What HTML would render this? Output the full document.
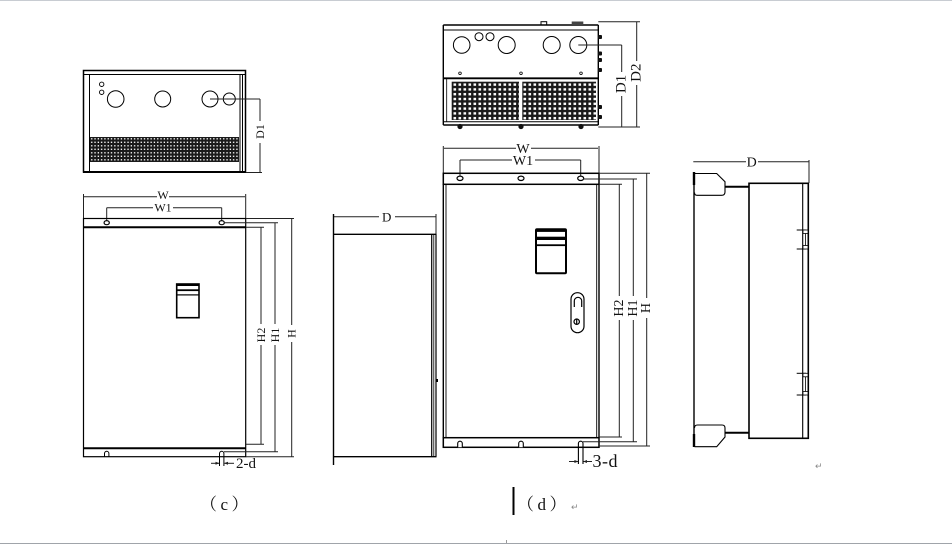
<!DOCTYPE html>
<html><head><meta charset="utf-8"><style>
html,body{margin:0;padding:0;background:#fff;}
svg{display:block;}
text{font-family:"Liberation Serif","Noto Serif CJK SC",serif;fill:#111;}
</style></head><body>
<svg width="952" height="547" viewBox="0 0 952 547" xmlns="http://www.w3.org/2000/svg">
<defs>
<pattern id="m1" width="3.3" height="3.5" patternUnits="userSpaceOnUse" x="90" y="137">
<rect width="3.3" height="3.5" fill="#1a1a1a"/>
<rect x="1.1" y="1.1" width="1.3" height="1.4" fill="#fff"/>
</pattern>
<pattern id="m2" width="5" height="4.8" patternUnits="userSpaceOnUse" x="452" y="82">
<rect width="5" height="4.8" fill="#1a1a1a"/>
<rect x="1.5" y="1.4" width="2.6" height="2.4" fill="#fff"/>
</pattern>
</defs>

<!-- page lines -->
<line x1="0" y1="0.5" x2="952" y2="0.5" stroke="#c8ccd2" stroke-width="1"/>
<line x1="0" y1="543.5" x2="952" y2="543.5" stroke="#a0a4aa" stroke-width="1"/>
<line x1="506.5" y1="540" x2="506.5" y2="543" stroke="#999" stroke-width="1"/>

<!-- ================= (c) TOP VIEW ================= -->
<g stroke="#000" fill="none">
<rect x="83.5" y="70.5" width="162" height="101.5" stroke-width="1.5"/>
<line x1="83" y1="74.5" x2="246" y2="74.5" stroke-width="1"/>
<line x1="83" y1="172" x2="246" y2="172" stroke-width="2"/>
<line x1="89.5" y1="74" x2="89.5" y2="172" stroke-width="1"/>
<line x1="240" y1="74" x2="240" y2="172" stroke-width="1"/>
<line x1="242.5" y1="74" x2="242.5" y2="172" stroke-width="1"/>
<circle cx="101.7" cy="84.3" r="2.2" stroke-width="0.9"/>
<circle cx="101.7" cy="92.3" r="2.2" stroke-width="0.9"/>
<circle cx="115.7" cy="99" r="8.3" stroke-width="1"/>
<circle cx="162.7" cy="99" r="8" stroke-width="1"/>
<circle cx="210" cy="99" r="8" stroke-width="1"/>
<circle cx="229.3" cy="99" r="6" stroke-width="1"/>
</g>
<rect x="90" y="137" width="149" height="25" fill="url(#m1)"/>
<g stroke="#222" stroke-width="1" fill="none">
<line x1="210" y1="99" x2="260" y2="99"/>
<line x1="260" y1="99" x2="260" y2="121"/>
<line x1="260" y1="143" x2="260" y2="172"/>
<line x1="246" y1="172.5" x2="262" y2="172.5"/>
</g>
<text transform="translate(260,131.5) rotate(-90)" text-anchor="middle" dominant-baseline="central" font-size="12">D1</text>

<!-- ================= (c) FRONT VIEW ================= -->
<g stroke="#222" stroke-width="1" fill="none">
<line x1="83.5" y1="194" x2="83.5" y2="218"/>
<line x1="245.7" y1="194" x2="245.7" y2="218"/>
<line x1="84" y1="196.7" x2="157" y2="196.7"/>
<line x1="169" y1="196.7" x2="245" y2="196.7"/>
<line x1="106.7" y1="207.7" x2="153" y2="207.7"/>
<line x1="173" y1="207.7" x2="221.7" y2="207.7"/>
<line x1="106.7" y1="207.7" x2="106.7" y2="221"/>
<line x1="221.7" y1="207.7" x2="221.7" y2="221"/>
</g>
<text x="163" y="199" text-anchor="middle" font-size="12">W</text>
<text x="163" y="211.5" text-anchor="middle" font-size="12">W1</text>
<g stroke="#000" fill="none">
<rect x="83.5" y="218.5" width="162.2" height="238.2" stroke-width="1.2"/>
<line x1="83.5" y1="227.3" x2="245.7" y2="227.3" stroke-width="2"/>
<line x1="83.5" y1="448.3" x2="245.7" y2="448.3" stroke-width="2"/>
<ellipse cx="106.7" cy="222.7" rx="2.6" ry="2" stroke-width="1.2"/>
<ellipse cx="221.7" cy="222.7" rx="2.6" ry="2" stroke-width="1.2"/>
<path d="M104.5,456.7 V453.5 a2.2,2.2 0 0 1 4.4,0 V456.7" stroke-width="1"/>
<path d="M219.5,466 V453.5 a2.2,2.2 0 0 1 4.4,0 V466" stroke-width="1"/>
</g>
<!-- (c) display -->
<rect x="176.7" y="284" width="22.3" height="33.7" fill="none" stroke="#000" stroke-width="1.6"/>
<rect x="176.7" y="284" width="22.3" height="2" fill="#000"/>
<rect x="176.7" y="289.3" width="22.3" height="1.8" fill="#000"/>
<rect x="176.7" y="294.3" width="22.3" height="1.2" fill="#000"/>
<!-- 2-d -->
<g stroke="#222" stroke-width="1" fill="#222">
<line x1="211" y1="463.3" x2="219" y2="463.3"/>
<polygon points="219.5,463.3 215.5,461.8 215.5,464.8" stroke="none"/>
<line x1="224.5" y1="463.3" x2="234" y2="463.3"/>
<polygon points="224,463.3 228,461.8 228,464.8" stroke="none"/>
</g>
<text x="236" y="468" font-size="15">2-d</text>
<!-- H dims (c) -->
<g stroke="#222" stroke-width="1" fill="none">
<line x1="246" y1="218.5" x2="294" y2="218.5"/>
<line x1="246" y1="456.7" x2="294" y2="456.7"/>
<line x1="291.7" y1="218.5" x2="291.7" y2="325"/>
<line x1="291.7" y1="342" x2="291.7" y2="456.7"/>
<line x1="224" y1="222.7" x2="278" y2="222.7"/>
<line x1="224" y1="451.7" x2="278" y2="451.7"/>
<line x1="275" y1="222.7" x2="275" y2="324"/>
<line x1="275" y1="345" x2="275" y2="451.7"/>
<line x1="246" y1="227.3" x2="264" y2="227.3"/>
<line x1="246" y1="444.3" x2="264" y2="444.3"/>
<line x1="261" y1="227.3" x2="261" y2="324"/>
<line x1="261" y1="345" x2="261" y2="444.3"/>
</g>
<text transform="translate(261,335) rotate(-90)" text-anchor="middle" dominant-baseline="central" font-size="12">H2</text>
<text transform="translate(275,335) rotate(-90)" text-anchor="middle" dominant-baseline="central" font-size="12">H1</text>
<text transform="translate(291.7,333.5) rotate(-90)" text-anchor="middle" dominant-baseline="central" font-size="12">H</text>

<!-- ================= (c) SIDE VIEW ================= -->
<g stroke="#222" stroke-width="1" fill="none">
<line x1="334" y1="216.7" x2="379" y2="216.7"/>
<line x1="395" y1="216.7" x2="436" y2="216.7"/>
<line x1="436" y1="214" x2="436" y2="234"/>
</g>
<text x="386.7" y="221.5" text-anchor="middle" font-size="13">D</text>
<g stroke="#000" fill="none">
<line x1="333.5" y1="214" x2="333.5" y2="465" stroke-width="1.4"/>
<line x1="333" y1="234.3" x2="436.5" y2="234.3" stroke-width="1.4"/>
<line x1="333" y1="456.7" x2="436.5" y2="456.7" stroke-width="1.4"/>
<line x1="431.7" y1="234.3" x2="431.7" y2="456.7" stroke-width="1.2"/>
<line x1="433.8" y1="234.3" x2="433.8" y2="456.7" stroke-width="0.8"/>
<line x1="436" y1="234.3" x2="436" y2="456.7" stroke-width="1.2"/>
</g>
<rect x="436" y="379" width="2" height="3" fill="#000"/>

<!-- ================= (d) TOP VIEW ================= -->
<g stroke="#000" fill="none">
<line x1="443.3" y1="25" x2="598.3" y2="25" stroke-width="1.4"/>
<line x1="443.3" y1="30" x2="598.3" y2="30" stroke-width="1"/>
<line x1="443.3" y1="25" x2="443.3" y2="125" stroke-width="1.4"/>
<line x1="446.7" y1="78" x2="446.7" y2="122" stroke-width="0.8"/>
<line x1="598.3" y1="25" x2="598.3" y2="125" stroke-width="1.4"/>
<line x1="443.3" y1="78.3" x2="598.3" y2="78.3" stroke-width="1.8"/>
<line x1="443.3" y1="121.7" x2="598.3" y2="121.7" stroke-width="1"/>
<line x1="443.3" y1="125" x2="598.3" y2="125" stroke-width="1.6"/>
<rect x="541" y="21.7" width="5.7" height="3.3" stroke-width="1"/>
<circle cx="461.7" cy="45" r="8.3" stroke-width="1"/>
<circle cx="479" cy="36.7" r="4" stroke-width="1"/>
<circle cx="490" cy="36.7" r="4" stroke-width="1"/>
<circle cx="506.7" cy="45" r="8.5" stroke-width="1"/>
<circle cx="551.7" cy="45" r="8.5" stroke-width="1"/>
<circle cx="578.3" cy="45" r="8.5" stroke-width="1"/>
<circle cx="460" cy="73.3" r="1.3" stroke-width="0.8"/>
<circle cx="521" cy="73.3" r="1.3" stroke-width="0.8"/>
<circle cx="581" cy="73.3" r="1.3" stroke-width="0.8"/>
</g>
<rect x="571.7" y="21.5" width="11.6" height="3.5" fill="#444"/>
<rect x="451.7" y="81.7" width="67.3" height="38.3" fill="url(#m2)"/>
<rect x="522.3" y="81.7" width="73.7" height="38.3" fill="url(#m2)"/>
<g fill="#111">
<circle cx="460" cy="126.5" r="2.6"/>
<circle cx="521" cy="126.5" r="2.6"/>
<circle cx="581" cy="126.5" r="2.6"/>
<rect x="598" y="35" width="4" height="4" rx="1"/>
<rect x="598" y="51.5" width="4" height="4" rx="1"/>
<rect x="598" y="58" width="4" height="4" rx="1"/>
<rect x="598" y="68" width="4" height="4" rx="1"/>
<rect x="598" y="105" width="4" height="4" rx="1"/>
<rect x="598" y="115" width="4" height="4" rx="1"/>
</g>
<g stroke="#222" stroke-width="1" fill="none">
<line x1="578.3" y1="45" x2="621.7" y2="45"/>
<line x1="621.7" y1="45" x2="621.7" y2="72"/>
<line x1="621.7" y1="96" x2="621.7" y2="126.7"/>
<line x1="598.3" y1="21.7" x2="640" y2="21.7"/>
<line x1="598.3" y1="127" x2="640" y2="127"/>
<line x1="636.7" y1="21.7" x2="636.7" y2="61"/>
<line x1="636.7" y1="85" x2="636.7" y2="127"/>
</g>
<text transform="translate(621.7,84) rotate(-90)" text-anchor="middle" dominant-baseline="central" font-size="15">D1</text>
<text transform="translate(636.7,72.7) rotate(-90)" text-anchor="middle" dominant-baseline="central" font-size="15">D2</text>

<!-- ================= (d) FRONT VIEW ================= -->
<g stroke="#222" stroke-width="1" fill="none">
<line x1="443.3" y1="146" x2="443.3" y2="173"/>
<line x1="599" y1="146" x2="599" y2="173"/>
<line x1="444" y1="148.3" x2="516" y2="148.3"/>
<line x1="531" y1="148.3" x2="598" y2="148.3"/>
<line x1="460" y1="160" x2="512" y2="160"/>
<line x1="535" y1="160" x2="580.7" y2="160"/>
<line x1="460" y1="160" x2="460" y2="176"/>
<line x1="580.7" y1="160" x2="580.7" y2="176"/>
</g>
<text x="523" y="153" text-anchor="middle" font-size="14">W</text>
<text x="523" y="165" text-anchor="middle" font-size="14">W1</text>
<g stroke="#000" fill="none">
<rect x="443.3" y="173.3" width="155.7" height="11" stroke-width="1.5"/>
<rect x="443.3" y="437.7" width="155.7" height="9.6" stroke-width="1.5"/>
<line x1="443.3" y1="184" x2="443.3" y2="438" stroke-width="1.4"/>
<line x1="446" y1="184" x2="446" y2="438" stroke-width="0.9"/>
<line x1="596.7" y1="184" x2="596.7" y2="438" stroke-width="0.9"/>
<line x1="599" y1="184" x2="599" y2="438" stroke-width="1.4"/>
<ellipse cx="460" cy="178.3" rx="3" ry="2.2" stroke-width="1.2"/>
<ellipse cx="521" cy="178.3" rx="3" ry="2.2" stroke-width="1.2"/>
<ellipse cx="580.7" cy="178.3" rx="3" ry="2.2" stroke-width="1.2"/>
<path d="M457.7,447.3 V443.5 a2.3,2.3 0 0 1 4.6,0 V447.3" stroke-width="1.1" fill="#fff"/>
<path d="M518.7,447.3 V443.5 a2.3,2.3 0 0 1 4.6,0 V447.3" stroke-width="1.1" fill="#fff"/>
<path d="M578.4,464 V443.5 a2.3,2.3 0 0 1 4.6,0 V464" stroke-width="1.1"/>
</g>
<!-- display (d) -->
<rect x="536" y="229.3" width="30" height="44" fill="none" stroke="#000" stroke-width="2" rx="1"/>
<rect x="536" y="229.3" width="30" height="2.6" fill="#000"/>
<rect x="536" y="236.7" width="30" height="3.3" fill="#000"/>
<rect x="536" y="244.3" width="30" height="1.8" fill="#000"/>
<!-- handle -->
<g stroke="#000" fill="none" stroke-width="1.2">
<rect x="571" y="292.7" width="13" height="40" rx="6.5"/>
<path d="M574.3,307 V301 A3.7,3.7 0 0 1 581.7,301 V307"/>
<circle cx="576.7" cy="321.7" r="2.7"/>
<line x1="576.7" y1="319" x2="576.7" y2="324.4"/>
</g>
<!-- 3-d -->
<g stroke="#222" stroke-width="1" fill="#222">
<line x1="569" y1="461.5" x2="578" y2="461.5"/>
<polygon points="578.4,461.5 574.4,460 574.4,463" stroke="none"/>
<line x1="583.5" y1="461.5" x2="592" y2="461.5"/>
<polygon points="583,461.5 587,460 587,463" stroke="none"/>
</g>
<text x="592.5" y="467" font-size="18" letter-spacing="0.5">3-d</text>
<!-- H dims (d) -->
<g stroke="#222" stroke-width="1" fill="none">
<line x1="599" y1="173.3" x2="650" y2="173.3"/>
<line x1="599" y1="446" x2="650" y2="446"/>
<line x1="646.7" y1="173.3" x2="646.7" y2="298"/>
<line x1="646.7" y1="318" x2="646.7" y2="446"/>
<line x1="583" y1="179" x2="637" y2="179"/>
<line x1="583" y1="441.7" x2="637" y2="441.7"/>
<line x1="633.3" y1="179" x2="633.3" y2="296"/>
<line x1="633.3" y1="320" x2="633.3" y2="441.7"/>
<line x1="599" y1="184.3" x2="622" y2="184.3"/>
<line x1="599" y1="437" x2="622" y2="437"/>
<line x1="619.3" y1="184.3" x2="619.3" y2="296"/>
<line x1="619.3" y1="320" x2="619.3" y2="437"/>
</g>
<text transform="translate(619.3,308) rotate(-90)" text-anchor="middle" dominant-baseline="central" font-size="14">H2</text>
<text transform="translate(633.3,308) rotate(-90)" text-anchor="middle" dominant-baseline="central" font-size="14">H1</text>
<text transform="translate(646.7,308) rotate(-90)" text-anchor="middle" dominant-baseline="central" font-size="14">H</text>

<!-- ================= (d) SIDE VIEW ================= -->
<g stroke="#222" stroke-width="1" fill="none">
<line x1="693.3" y1="161.7" x2="746" y2="161.7"/>
<line x1="758" y1="161.7" x2="809" y2="161.7"/>
<line x1="809" y1="160" x2="809" y2="183"/>
</g>
<text x="751.7" y="166.5" text-anchor="middle" font-size="14">D</text>
<g stroke="#000" fill="none">
<line x1="694" y1="172" x2="694" y2="447" stroke-width="1.4"/>
<line x1="694" y1="172" x2="694" y2="185" stroke-width="2.4"/>
<line x1="694" y1="434" x2="694" y2="447" stroke-width="2.4"/>
<path d="M694.5,173.5 H716.7 L725,181.7 V192 Q725,195.3 721.5,195.3 H697 Q694.5,195.3 694.5,192.5" stroke-width="1.1"/>
<path d="M694.5,428 Q694.5,425 697.5,425 H722 Q725,425 725,428 V437 L716.7,446.7 H694.5" stroke-width="1.1"/>
<line x1="725" y1="186.7" x2="749" y2="186.7" stroke-width="2"/>
<line x1="725" y1="432.7" x2="749" y2="432.7" stroke-width="2"/>
<rect x="749" y="183.3" width="59.3" height="255" stroke-width="1.6"/>
<line x1="802.7" y1="183.3" x2="802.7" y2="438.3" stroke-width="1.1"/>
<line x1="796.7" y1="230" x2="806" y2="230" stroke-width="1"/>
<line x1="796.7" y1="249" x2="806" y2="249" stroke-width="1"/>
<line x1="796.7" y1="373.3" x2="806" y2="373.3" stroke-width="1"/>
<line x1="796.7" y1="395" x2="806" y2="395" stroke-width="1"/>
<rect x="803" y="230" width="5" height="3.5" stroke-width="0.8" fill="#fff"/>
<rect x="803" y="245.5" width="5" height="3.5" stroke-width="0.8" fill="#fff"/>
<rect x="803" y="373.3" width="5" height="3.5" stroke-width="0.8" fill="#fff"/>
<rect x="803" y="391.5" width="5" height="3.5" stroke-width="0.8" fill="#fff"/>
<line x1="805.5" y1="233.5" x2="805.5" y2="245.5" stroke-width="0.8"/>
<line x1="805.5" y1="376.8" x2="805.5" y2="391.5" stroke-width="0.8"/>
</g>
<text x="815" y="469" font-size="9" style="fill:#888">↵</text>

<!-- ================= captions ================= -->
<text x="226" y="510" text-anchor="middle" font-size="17" letter-spacing="3.5">（c）</text>
<line x1="513.5" y1="487" x2="513.5" y2="515" stroke="#000" stroke-width="2"/>
<text x="543.5" y="510" text-anchor="middle" font-size="17" letter-spacing="3.5">（d）</text>
<text x="571" y="510" font-size="9" style="fill:#888">↵</text>
</svg>
</body></html>
